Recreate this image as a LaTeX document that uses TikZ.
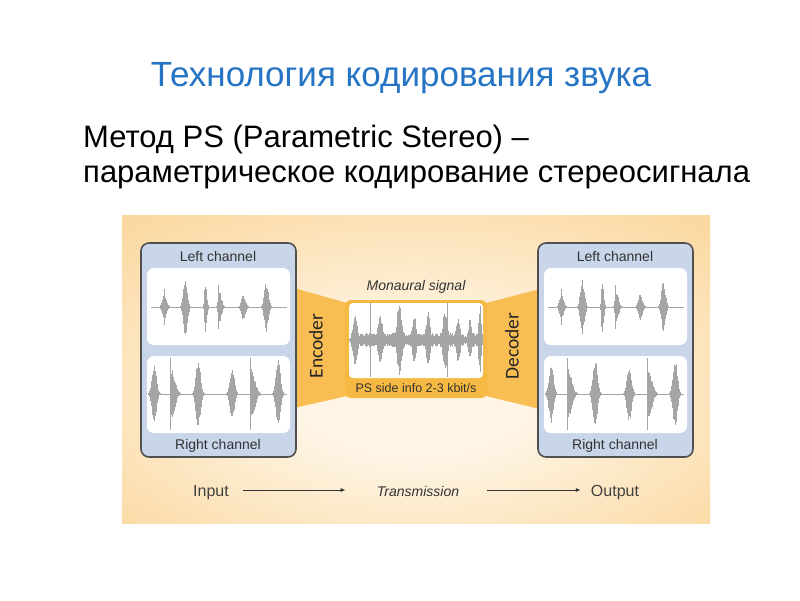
\documentclass[tikz,border=0pt]{standalone}
\usepackage{fontspec}
\setmainfont{Liberation Sans}
\newfontfamily\calfont{Carlito}
\usetikzlibrary{arrows.meta}
\definecolor{titleblue}{RGB}{38,116,196}
\definecolor{panelin}{RGB}{254,245,230}
\definecolor{panelout}{RGB}{249,201,122}
\definecolor{trap}{RGB}{248,190,84}
\definecolor{midorange}{RGB}{246,186,68}
\definecolor{boxblue}{RGB}{201,214,234}
\definecolor{boxedge}{RGB}{80,80,80}
\definecolor{wavegray}{RGB}{165,165,165}
\definecolor{labelgray}{RGB}{50,50,50}
\pgfdeclareradialshading{panelshade}{\pgfpoint{0bp}{-5bp}}{color(0bp)=(panelin); color(10bp)=(panelin); color(50bp)=(panelout); color(80bp)=(panelout)}
\tikzset{
  wave/.style={draw=wavegray, line width=0.8pt},
  chanbox/.style={draw=boxedge, line width=1.6pt, fill=boxblue, rounded corners=8pt},
  wpanel/.style={fill=white, rounded corners=7pt},
  chanlabel/.style={font=\fontsize{14}{14}\selectfont, text=labelgray, inner sep=0pt},
  codlabel/.style={font=\calfont\fontsize{19.5}{19.5}\selectfont, text=black!85, rotate=90, inner sep=0pt},
  small/.style={font=\fontsize{14}{14}\selectfont\itshape, text=labelgray, inner sep=0pt},
  io/.style={font=\fontsize{16}{16}\selectfont, text=black!75, inner sep=0pt},
  arr/.style={-{Latex[length=5pt,width=4pt]}, line width=1pt, draw=black!80},
}
% wave burst: #1 x0, #2 baseline, #3 amplitude, #4 attack width, #5 decay width
\newcommand\wburst[5]{%
  \pgfmathsetmacro\wbs{-2*#4}%
  \pgfmathsetmacro\wbn{\wbs+0.5}%
  \pgfmathsetmacro\wbe{2*#5}%
  \foreach \t in {\wbs,\wbn,...,\wbe}{%
    \pgfmathsetmacro\env{\t<0 ? exp(-(\t/#4)*(\t/#4)) : exp(-(\t/#5)*(\t/#5))}%
    \pgfmathsetmacro\up{#3*\env*(0.7+0.3*rnd)}%
    \pgfmathsetmacro\dn{#3*\env*(0.7+0.3*rnd)}%
    \draw[wave] (#1+\t,#2-\up) -- (#1+\t,#2+\dn);
  }}
\newcommand\wspike[3]{\draw[wavegray, line width=1pt] (#1,#2-#3) -- (#1,#2+#3);}
\newcommand\leftwave{%
  \draw[wavegray, line width=1pt] (151,307) -- (287,307);
  \wburst{164}{307}{13}{2.5}{3}\wspike{164}{307}{18}
  \wburst{185}{307}{28}{2.5}{3}
  \wburst{205}{307}{26}{1}{2}
  \wburst{219}{307}{16}{1.5}{3}\wspike{218}{307}{22}
  \wburst{243}{307}{13}{2.5}{3}
  \wburst{266}{307}{25}{2.5}{3}}
\newcommand\rightwave{%
  \draw[wavegray, line width=1pt] (151,394) -- (287,394);
  \wburst{154}{394}{30}{3}{3}
  \wspike{170}{394}{36}\wburst{171}{394}{26}{0.7}{5}
  \wburst{198}{394}{35}{3}{3}
  \wburst{232}{394}{28}{3}{3}
  \wspike{250}{394}{36}\wburst{251}{394}{26}{0.7}{5}
  \wburst{278}{394}{35}{3}{3}}
\newcommand\chanbox{%
  \draw[chanbox] (141,243) rectangle (296,457);
  \fill[wpanel] (147,268) rectangle (290,345);
  \fill[wpanel] (147,356) rectangle (290,433);
  \leftwave
  \rightwave}
\begin{document}
\begin{tikzpicture}[x=1pt,y=-1pt]
\pgfmathsetseed{7}
\useasboundingbox (0,0) rectangle (800,600);
\fill[white] (0,0) rectangle (800,600);
% titles
\node[font=\fontsize{35}{35}\selectfont, text=titleblue, anchor=base, inner sep=0pt] (title) at (401,86) {Технология кодирования звука};
\node[font=\fontsize{31}{31}\selectfont, anchor=base west, inner sep=0pt] (line1) at (83,147) {Метод PS (Parametric Stereo) –};
\node[font=\fontsize{31}{31}\selectfont, anchor=base west, inner sep=0pt] (line2) at (83,182) {параметрическое кодирование стереосигнала};
% panel
\shade[shading=panelshade] (122,215) rectangle (710,523);
% trapezoids
\fill[trap] (294,288) -- (347,303) -- (347,396) -- (294,408) -- cycle;
\fill[trap] (486,303) -- (540,289) -- (540,409) -- (486,396) -- cycle;
% channel boxes
\chanbox
\begin{scope}[xshift=397pt]\chanbox\end{scope}
\node[chanlabel] (lcl) at (218,256) {Left channel};
\node[chanlabel] (lcr) at (218,446) {Right channel};
\node[chanlabel] (rcl) at (615,256) {Left channel};
\node[chanlabel] (rcr) at (615,446) {Right channel};
% middle box
\fill[midorange, rounded corners=6pt] (345,300) rectangle (487,398);
\fill[white, rounded corners=4pt] (349,303) rectangle (483,378);
\draw[wavegray, line width=0.8pt] (351,340) -- (481,340);
\foreach \xx in {351,351.5,...,481}{
  \pgfmathsetmacro\nu{7*(0.4+0.6*rnd)}
  \draw[wave] (\xx,340-\nu) -- (\xx,340+\nu);}
\wburst{355}{340}{25}{3}{3}
\wspike{370}{340}{37}
\wburst{380}{340}{25}{3}{3}
\wburst{399}{340}{37}{3}{3.5}
\wburst{414}{340}{25}{2.5}{2.5}
\wburst{428}{340}{30}{2.5}{2.5}
\wburst{445}{340}{30}{3}{3}\wspike{447}{340}{37}
\wburst{458}{340}{25}{2.5}{2.5}
\wburst{470}{340}{22}{2}{2}
\wburst{480}{340}{35}{2}{1.5}
\node[font=\fontsize{12.5}{12.5}\selectfont, text=labelgray, inner sep=0pt] (psinfo) at (416,388) {PS side info 2-3 kbit/s};
\node[small] (mono) at (416,287) {Monaural signal};
\node[codlabel] (enc) at (316,346) {Encoder};
\node[codlabel] (dec) at (512,346) {Decoder};
% bottom
\node[io, anchor=base] (in) at (211,496) {Input};
\node[small, anchor=base] (trans) at (418,496) {Transmission};
\node[io, anchor=base] (out) at (615,496) {Output};
\draw[arr] ([shift={(14,-6)}]in.base east) -- ([shift={(-31,-6)}]trans.base west);
\draw[arr] ([shift={(28,-6)}]trans.base east) -- ([shift={(-10,-6)}]out.base west);
\end{tikzpicture}
\end{document}
